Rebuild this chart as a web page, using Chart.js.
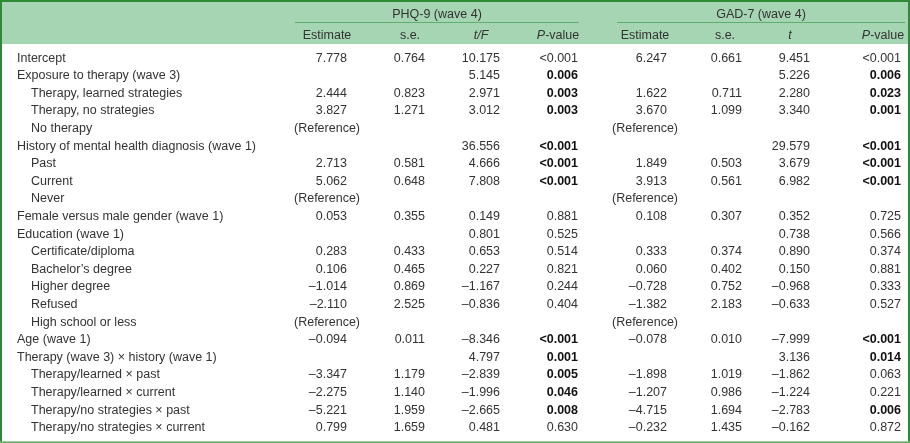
<!DOCTYPE html>
<html>
<head>
<meta charset="utf-8">
<script src="https://cdn.jsdelivr.net/npm/chart.js@4.4.1/dist/chart.umd.min.js"></script>
<style>
  html, body { margin: 0; padding: 0; background: #fff; }
  #wrap { width: 910px; height: 443px; position: relative; }
</style>
</head>
<body>
<div id="wrap"><canvas id="tableChart"></canvas></div>
<script>
// rows of the table
const rowLabels = [
  'Intercept',
  'Exposure to therapy (wave 3)',
  'Therapy, learned strategies',
  'Therapy, no strategies',
  'No therapy',
  'History of mental health diagnosis (wave 1)',
  'Past',
  'Current',
  'Never',
  'Female versus male gender (wave 1)',
  'Education (wave 1)',
  'Certificate/diploma',
  'Bachelor\u2019s degree',
  'Higher degree',
  'Refused',
  'High school or less',
  'Age (wave 1)',
  'Therapy (wave 3) \u00d7 history (wave 1)',
  'Therapy/learned \u00d7 past',
  'Therapy/learned \u00d7 current',
  'Therapy/no strategies \u00d7 past',
  'Therapy/no strategies \u00d7 current'
];
const rowLevel = [0, 0, 1, 1, 1, 0, 1, 1, 1, 0, 0, 1, 1, 1, 1, 1, 0, 0, 1, 1, 1, 1];
const referenceRows = [4, 8, 15];

// PHQ-9 (wave 4)
const phqEstimate = [7.778, null, 2.444, 3.827, null, null, 2.713, 5.062, null, 0.053, null, 0.283, 0.106, -1.014, -2.110, null, -0.094, null, -3.347, -2.275, -5.221, 0.799];
const phqSE = [0.764, null, 0.823, 1.271, null, null, 0.581, 0.648, null, 0.355, null, 0.433, 0.465, 0.869, 2.525, null, 0.011, null, 1.179, 1.140, 1.959, 1.659];
const phqT = [10.175, 5.145, 2.971, 3.012, null, 36.556, 4.666, 7.808, null, 0.149, 0.801, 0.653, 0.227, -1.167, -0.836, null, -8.346, 4.797, -2.839, -1.996, -2.665, 0.481];
const phqP = ['<0.001', '0.006', '0.003', '0.003', '', '<0.001', '<0.001', '<0.001', '', '0.881', '0.525', '0.514', '0.821', '0.244', '0.404', '', '<0.001', '0.001', '0.005', '0.046', '0.008', '0.630'];

// GAD-7 (wave 4)
const gadEstimate = [6.247, null, 1.622, 3.670, null, null, 1.849, 3.913, null, 0.108, null, 0.333, 0.060, -0.728, -1.382, null, -0.078, null, -1.898, -1.207, -4.715, -0.232];
const gadSE = [0.661, null, 0.711, 1.099, null, null, 0.503, 0.561, null, 0.307, null, 0.374, 0.402, 0.752, 2.183, null, 0.010, null, 1.019, 0.986, 1.694, 1.435];
const gadT = [9.451, 5.226, 2.280, 3.340, null, 29.579, 3.679, 6.982, null, 0.352, 0.738, 0.890, 0.150, -0.968, -0.633, null, -7.999, 3.136, -1.862, -1.224, -2.783, -0.162];
const gadP = ['<0.001', '0.006', '0.023', '0.001', '', '<0.001', '<0.001', '<0.001', '', '0.725', '0.566', '0.374', '0.881', '0.333', '0.527', '', '<0.001', '0.014', '0.063', '0.221', '0.006', '0.872'];

const groupTitles = ['PHQ-9 (wave 4)', 'GAD-7 (wave 4)'];

// layout (x in scale units = px, y in row units)
const FONT = "'Liberation Sans', Arial, sans-serif";
const FONT_SIZE = 12.5;
const TEXT = '#333333';
const BOLD_TEXT = '#111111';
const HEAD_BG = '#a5d5b2';
const Y_GROUP = -2.5, Y_RULE = -2.05, Y_COLHEAD = -1.3, Y_HEAD_BOTTOM = -0.8, Y_BOTTOM = 21.78;
const LABEL_X = [17, 31];
const groups = [
  { from: 295, to: 579, cols: [
    { head: ['Estimate'], hx: 327, x: 347, values: phqEstimate, showRef: true },
    { head: ['s.e.'], hx: 410, x: 425, values: phqSE },
    { head: ['t/F', 'i'], hx: 481, x: 500, values: phqT },
    { head: ['P', 'i', '-value', ''], hx: 558, x: 578, values: phqP, p: true }
  ]},
  { from: 617, to: 905, cols: [
    { head: ['Estimate'], hx: 645, x: 667, values: gadEstimate, showRef: true },
    { head: ['s.e.'], hx: 725, x: 742, values: gadSE },
    { head: ['t', 'i'], hx: 790, x: 810, values: gadT },
    { head: ['P', 'i', '-value', ''], hx: 883, x: 901, values: gadP, p: true }
  ]}
];

function fmt(v) {
  if (v === null || v === undefined) return '';
  return (v < 0 ? '\u2013' : '') + Math.abs(v).toFixed(3);
}

function isSignificant(p, row) {
  if (!p || row === 0) return false;
  return p.startsWith('<') || parseFloat(p) < 0.05;
}

function font(style) {
  const w = style === 'b' ? 'bold ' : '';
  const s = style === 'i' ? 'italic ' : '';
  return s + w + FONT_SIZE + 'px ' + FONT;
}

// draws pieces [text, style, text, style...] centred on cx
function drawRich(ctx, parts, cx, cy) {
  let total = 0;
  const pieces = [];
  for (let i = 0; i < parts.length; i += 2) {
    ctx.font = font(parts[i + 1]);
    const w = ctx.measureText(parts[i]).width;
    pieces.push({ t: parts[i], f: ctx.font, w });
    total += w;
  }
  let x = cx - total / 2;
  ctx.textAlign = 'left';
  pieces.forEach(p => {
    ctx.font = p.f;
    ctx.fillText(p.t, x, cy);
    x += p.w;
  });
}

const tablePlugin = {
  id: 'tableDraw',
  beforeDraw(chart) {
    const { ctx, chartArea: a, scales: { x, y } } = chart;
    ctx.save();
    ctx.fillStyle = '#ffffff';
    ctx.fillRect(a.left, a.top, a.right - a.left, a.bottom - a.top);
    ctx.fillStyle = HEAD_BG;
    ctx.fillRect(a.left, a.top, a.right - a.left, y.getPixelForValue(Y_HEAD_BOTTOM) - a.top);

    // rules under group titles
    ctx.strokeStyle = '#5fae70';
    ctx.lineWidth = 1;
    groups.forEach(g => {
      const ry = Math.round(y.getPixelForValue(Y_RULE)) + 0.5;
      ctx.beginPath();
      ctx.moveTo(x.getPixelForValue(g.from), ry);
      ctx.lineTo(x.getPixelForValue(g.to), ry);
      ctx.stroke();
    });

    // bottom rule
    ctx.fillStyle = '#5cae5c';
    ctx.fillRect(a.left, y.getPixelForValue(Y_BOTTOM), a.right - a.left, 2);

    // frame
    ctx.strokeStyle = '#2e8a35';
    ctx.lineWidth = 2;
    ctx.beginPath();
    ctx.moveTo(a.left + 1, y.getPixelForValue(Y_BOTTOM));
    ctx.lineTo(a.left + 1, a.top + 1);
    ctx.lineTo(a.right - 1, a.top + 1);
    ctx.lineTo(a.right - 1, y.getPixelForValue(Y_BOTTOM));
    ctx.stroke();
    ctx.restore();
  },
  afterDraw(chart) {
    const { ctx, scales: { x, y } } = chart;
    ctx.save();
    ctx.textBaseline = 'middle';
    ctx.fillStyle = TEXT;

    // header
    groups.forEach((g, gi) => {
      drawRich(ctx, [groupTitles[gi], ''], x.getPixelForValue((g.from + g.to) / 2), y.getPixelForValue(Y_GROUP));
      g.cols.forEach(c => {
        const parts = c.head.length === 1 ? [c.head[0], ''] : c.head;
        drawRich(ctx, parts, x.getPixelForValue(c.hx), y.getPixelForValue(Y_COLHEAD));
      });
    });

    // row labels
    ctx.textAlign = 'left';
    ctx.font = font('');
    rowLabels.forEach((label, i) => {
      ctx.fillText(label, x.getPixelForValue(LABEL_X[rowLevel[i]]), y.getPixelForValue(i));
    });

    // cells
    groups.forEach(g => {
      g.cols.forEach(c => {
        c.values.forEach((v, i) => {
          const cy = y.getPixelForValue(i);
          if (c.showRef && referenceRows.includes(i)) {
            ctx.fillStyle = TEXT;
            drawRich(ctx, ['(Reference)', ''], x.getPixelForValue(c.hx), cy);
            return;
          }
          const txt = c.p ? v : fmt(v);
          if (!txt) return;
          const bold = c.p && isSignificant(v, i);
          ctx.font = font(bold ? 'b' : '');
          ctx.fillStyle = bold ? BOLD_TEXT : TEXT;
          ctx.textAlign = 'right';
          ctx.fillText(txt, x.getPixelForValue(c.x), cy);
        });
      });
    });
    ctx.restore();
  }
};

new Chart(document.getElementById('tableChart'), {
  type: 'scatter',
  data: { datasets: [{ data: [], pointRadius: 0 }] },
  options: {
    responsive: true, maintainAspectRatio: false, animation: false,
    layout: { padding: 0 },
    scales: {
      x: { type: 'linear', min: 0, max: 910, display: false },
      y: { type: 'linear', reverse: true, min: -3.3, max: 21.87, display: false }
    },
    plugins: { legend: { display: false }, tooltip: { enabled: false } },
    events: []
  },
  plugins: [tablePlugin]
});
</script>
</body>
</html>
